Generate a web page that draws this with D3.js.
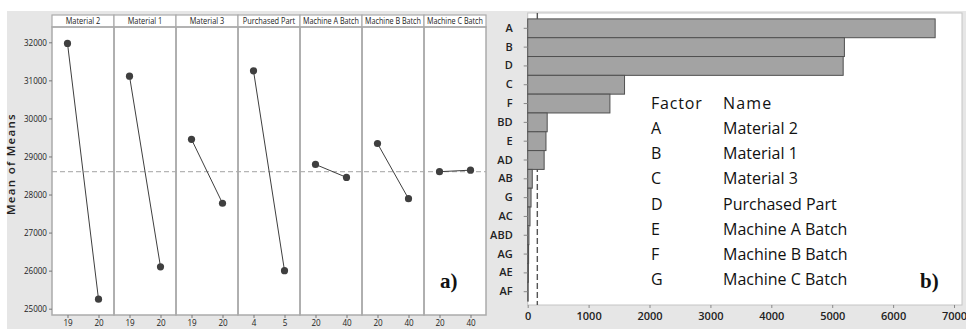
<!DOCTYPE html>
<html>
<head>
<meta charset="utf-8">
<script src="https://cdn.jsdelivr.net/npm/d3@7"></script>
<style>
  html, body { margin: 0; padding: 0; background: #ffffff; }
  svg { display: block; }
</style>
</head>
<body>
<svg id="chart" width="966" height="329"></svg>
<script>
// ---- data ----
const factorNames = ["Material 2", "Material 1", "Material 3", "Purchased Part", "Machine A Batch", "Machine B Batch", "Machine C Batch"];
const factorLevels = [["19", "20"], ["19", "20"], ["19", "20"], ["4", "5"], ["20", "40"], ["20", "40"], ["20", "40"]];
const lowLevelMeans = [31970, 31110, 29450, 31250, 28790, 29340, 28600];
const highLevelMeans = [25250, 26100, 27770, 26000, 28450, 27890, 28640];
const grandMean = 28600;
const meanTicks = [25000, 26000, 27000, 28000, 29000, 30000, 31000, 32000];

const effectTerms = ["A", "B", "D", "C", "F", "BD", "E", "AD", "AB", "G", "AC", "ABD", "AG", "AE", "AF"];
const effectValues = [6690, 5200, 5180, 1590, 1350, 320, 300, 270, 75, 55, 38, 20, 15, 12, 8];
const effectReference = 158;
const effectTicks = [0, 1000, 2000, 3000, 4000, 5000, 6000, 7000];

const legendFactors = ["A", "B", "C", "D", "E", "F", "G"];
const legendNames = ["Material 2", "Material 1", "Material 3", "Purchased Part", "Machine A Batch", "Machine B Batch", "Machine C Batch"];

// ---- drawing ----
const svg = d3.select("#chart");
const smallFont = "'Open Sans', sans-serif";
const uiFont = "'Open Sans', sans-serif";
const bgGrey = "#e6e6e6";
const frameGrey = "#ababab";

// condense small labels horizontally (reference uses a narrow UI font)
function condense(sel, k) {
  sel.each(function () {
    const w = this.getComputedTextLength();
    d3.select(this).attr("textLength", w * k).attr("lengthAdjust", "spacingAndGlyphs");
  });
}

svg.append("rect").attr("x", 7).attr("y", 11).attr("width", 959).attr("height", 318).attr("fill", bgGrey);

// ===== Panel a) main effects plot =====
const L = { left: 52, right: 486, top: 27, bottom: 315, headerTop: 15 };
const panelX = d3.scaleBand().domain(factorNames).range([L.left, L.right]).padding(0);
const yMean = d3.scaleLinear().domain([24834, 32402]).range([L.bottom, L.top]);

const gA = svg.append("g");

gA.append("rect").attr("x", L.left).attr("y", L.headerTop).attr("width", L.right - L.left)
  .attr("height", L.bottom - L.headerTop).attr("fill", "#ffffff");

gA.append("line").attr("x1", L.left).attr("x2", L.right)
  .attr("y1", yMean(grandMean)).attr("y2", yMean(grandMean))
  .attr("stroke", "#b5b5b5").attr("stroke-width", 1.3).attr("stroke-dasharray", "5,3");

factorNames.forEach((name, i) => {
  const x0 = panelX(name);
  const w = panelX.bandwidth();
  const g = gA.append("g");
  g.append("rect").attr("x", x0).attr("y", L.headerTop).attr("width", w).attr("height", L.top - L.headerTop)
    .attr("fill", "#ffffff").attr("stroke", frameGrey).attr("stroke-width", 1.2);
  const hg = g.append("g");
  const ht = hg.append("text").attr("x", 0).attr("y", 0)
    .attr("text-anchor", "middle").attr("font-family", smallFont).attr("font-size", 8.6)
    .attr("fill", "#222").text(name);
  const tw = ht.node().getComputedTextLength();
  const k = Math.min(0.86, (w - 6) / tw);
  hg.attr("transform", `translate(${x0 + w / 2},${L.top - 3}) scale(${k},1)`);
  g.append("rect").attr("x", x0).attr("y", L.top).attr("width", w).attr("height", L.bottom - L.top)
    .attr("fill", "none").attr("stroke", frameGrey).attr("stroke-width", 1.5);

  const xl = d3.scalePoint().domain(factorLevels[i]).range([x0, x0 + w]).padding(0.5);
  const ax = d3.axisBottom(xl).tickSize(3).tickSizeOuter(0);
  const axg = g.append("g").attr("transform", `translate(0,${L.bottom})`).call(ax);
  axg.select(".domain").remove();
  axg.selectAll(".tick line").attr("stroke", "#777");
  axg.selectAll(".tick text").attr("font-family", smallFont).attr("font-size", 9.5).attr("fill", "#222").attr("dy", "0.55em");
  condense(axg.selectAll(".tick text"), 0.85);

  const pts = [
    [xl(factorLevels[i][0]), yMean(lowLevelMeans[i])],
    [xl(factorLevels[i][1]), yMean(highLevelMeans[i])]
  ];
  g.append("path").attr("d", d3.line()(pts)).attr("stroke", "#3f3f3f").attr("stroke-width", 1).attr("fill", "none");
  g.selectAll("circle").data(pts).join("circle")
    .attr("cx", d => d[0]).attr("cy", d => d[1]).attr("r", 3.6).attr("fill", "#3f3f3f");
});

const yAx = d3.axisLeft(yMean).tickValues(meanTicks).tickSize(3).tickFormat(d3.format("d"));
const yg = gA.append("g").attr("transform", `translate(${L.left},0)`).call(yAx);
yg.select(".domain").remove();
yg.selectAll(".tick line").attr("stroke", "#777");
yg.selectAll(".tick text").attr("font-family", smallFont).attr("font-size", 9.5).attr("fill", "#222").attr("x", -5);
condense(yg.selectAll(".tick text"), 0.85);

gA.append("text").attr("transform", `translate(15,${(L.top + L.bottom) / 2 - 7}) rotate(-90)`)
  .attr("text-anchor", "middle").attr("font-family", uiFont).attr("font-weight", 600)
  .attr("font-size", 11.5).attr("letter-spacing", 1.3).attr("fill", "#222").text("Mean of Means");

gA.append("text").attr("x", 440).attr("y", 288).attr("font-family", "'Liberation Serif', serif")
  .attr("font-weight", "bold").attr("font-size", 21).attr("fill", "#111").text("a)");

// ===== Panel b) effects bar chart =====
const R = { left: 527.7, right: 962, top: 13, bottom: 305 };
const xEff = d3.scaleLinear().domain([0, 7131]).range([R.left, R.right]);
const yEff = d3.scaleBand().domain(effectTerms).range([18.9, 301.1]).padding(0);

const gB = svg.append("g");
gB.append("rect").attr("x", R.left).attr("y", R.top).attr("width", R.right - R.left).attr("height", R.bottom - R.top)
  .attr("fill", "#ffffff").attr("stroke", "#c4c4c4").attr("stroke-width", 1);

gB.append("line").attr("x1", xEff(effectReference)).attr("x2", xEff(effectReference))
  .attr("y1", R.top).attr("y2", R.bottom)
  .attr("stroke", "#555").attr("stroke-width", 1.4).attr("stroke-dasharray", "6,3");

gB.selectAll("rect.bar").data(effectTerms).join("rect").attr("class", "bar")
  .attr("x", xEff(0)).attr("y", d => yEff(d))
  .attr("width", (d, i) => xEff(effectValues[i]) - xEff(0))
  .attr("height", yEff.bandwidth())
  .attr("fill", "#a3a3a3").attr("stroke", "#505050").attr("stroke-width", 1);

const bxAx = d3.axisBottom(xEff).tickValues(effectTicks).tickSize(3).tickFormat(d3.format("d"));
const bxg = gB.append("g").attr("transform", `translate(0,${R.bottom})`).call(bxAx);
bxg.select(".domain").remove();
bxg.selectAll(".tick line").attr("stroke", "#888");
bxg.selectAll(".tick text").attr("font-family", uiFont).attr("font-weight", 600).attr("font-size", 11).attr("fill", "#222").attr("dy", "0.85em");

const byAx = d3.axisLeft(yEff).tickSize(4);
const byg = gB.append("g").attr("transform", `translate(${R.left},0)`).call(byAx);
byg.select(".domain").remove();
byg.selectAll(".tick line").attr("stroke", "#888");
byg.selectAll(".tick text").attr("font-family", uiFont).attr("font-weight", 600).attr("font-size", 11).attr("fill", "#222").attr("x", -15);

const legY = d3.scalePoint().domain(["header"].concat(legendFactors)).range([103.5, 279]);
const lg = gB.append("g").attr("font-family", uiFont).attr("font-size", 16).attr("fill", "#111");
lg.append("text").attr("x", 651).attr("y", legY("header")).attr("dy", "0.36em").attr("letter-spacing", 0.8).text("Factor");
lg.append("text").attr("x", 723).attr("y", legY("header")).attr("dy", "0.36em").attr("letter-spacing", 1.2).text("Name");
legendFactors.forEach((f, i) => {
  lg.append("text").attr("x", 651).attr("y", legY(f)).attr("dy", "0.36em").text(f);
  lg.append("text").attr("x", 723).attr("y", legY(f)).attr("dy", "0.36em").text(legendNames[i]);
});

gB.append("text").attr("x", 920).attr("y", 288).attr("font-family", "'Liberation Serif', serif")
  .attr("font-weight", "bold").attr("font-size", 21).attr("fill", "#111").text("b)");
</script>
</body>
</html>
